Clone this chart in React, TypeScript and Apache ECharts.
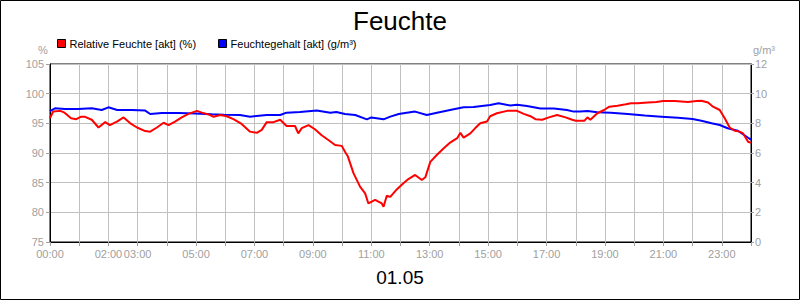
import React, { useEffect, useRef } from "react";
import * as echarts from "echarts";

// Relative humidity (%), left axis — hours of day and values
const rhHours = [0, 0.11, 0.35, 0.5, 0.72, 0.9, 1.05, 1.2, 1.43, 1.66, 1.89, 2.05, 2.29, 2.52, 2.75, 2.98, 3.26, 3.43, 3.66, 3.89, 4.06, 4.28, 4.51, 4.74, 5.03, 5.2, 5.43, 5.6, 5.83, 6.05, 6.28, 6.56, 6.85, 7.08, 7.25, 7.42, 7.65, 7.88, 8.1, 8.39, 8.5, 8.62, 8.85, 9.07, 9.3, 9.53, 9.76, 9.99, 10.1, 10.2, 10.39, 10.62, 10.79, 10.9, 11.13, 11.36, 11.42, 11.53, 11.65, 11.88, 12.1, 12.27, 12.5, 12.73, 12.85, 13.02, 13.25, 13.48, 13.7, 13.94, 14.05, 14.16, 14.39, 14.56, 14.73, 14.96, 15.07, 15.3, 15.65, 15.99, 16.22, 16.45, 16.62, 16.85, 17.08, 17.36, 17.65, 17.88, 18.0, 18.3, 18.4, 18.5, 18.74, 18.97, 19.15, 19.43, 19.72, 19.89, 20.12, 20.47, 20.76, 20.99, 21.39, 21.84, 22.13, 22.3, 22.53, 22.7, 22.93, 23.1, 23.27, 23.44, 23.61, 23.73, 23.9, 24.0];
const rhValues = [95.9, 97.0, 97.1, 96.8, 95.85, 95.7, 96.1, 96.1, 95.6, 94.3, 95.2, 94.7, 95.3, 96.0, 95.0, 94.3, 93.7, 93.6, 94.3, 95.1, 94.7, 95.3, 96.0, 96.6, 97.1, 96.8, 96.5, 96.1, 96.4, 96.2, 95.7, 94.9, 93.6, 93.4, 93.9, 95.2, 95.2, 95.6, 94.55, 94.55, 93.3, 94.2, 94.7, 94.0, 93.0, 92.2, 91.35, 91.2, 90.2, 89.4, 86.6, 84.3, 83.2, 81.5, 82.1, 81.5, 80.95, 82.8, 82.6, 83.9, 84.9, 85.6, 86.3, 85.45, 85.9, 88.5, 89.7, 90.8, 91.75, 92.5, 93.4, 92.6, 93.3, 94.2, 95.0, 95.3, 96.2, 96.7, 97.1, 97.1, 96.6, 96.2, 95.7, 95.6, 96.0, 96.4, 96.0, 95.6, 95.45, 95.45, 96.0, 95.6, 96.7, 97.25, 97.8, 97.97, 98.2, 98.37, 98.37, 98.5, 98.6, 98.76, 98.76, 98.6, 98.76, 98.8, 98.5, 97.8, 97.25, 95.85, 94.3, 93.75, 93.6, 93.3, 91.9, 91.7];

// Absolute humidity (g/m³), right axis — hours of day and values
const ahHours = [0, 0.17, 0.5, 0.97, 1.43, 1.77, 2.0, 2.3, 2.8, 3.26, 3.43, 3.83, 4.4, 4.97, 5.55, 5.95, 6.5, 6.85, 7.42, 7.88, 8.1, 8.56, 9.13, 9.6, 9.8, 10.1, 10.45, 10.85, 11.0, 11.42, 11.65, 11.94, 12.1, 12.5, 12.9, 13.25, 13.82, 14.16, 14.5, 15.07, 15.36, 15.76, 15.99, 16.33, 16.79, 17.25, 17.7, 17.93, 18.15, 18.4, 18.74, 19.2, 19.78, 20.36, 20.93, 21.5, 22.0, 22.3, 22.65, 22.93, 23.2, 23.55, 23.9, 24.0];
const ahValues = [8.83, 9.01, 8.97, 8.97, 9.01, 8.9, 9.08, 8.9, 8.9, 8.86, 8.63, 8.7, 8.7, 8.67, 8.61, 8.58, 8.56, 8.45, 8.56, 8.56, 8.72, 8.77, 8.86, 8.72, 8.77, 8.63, 8.56, 8.27, 8.4, 8.27, 8.45, 8.63, 8.68, 8.79, 8.56, 8.72, 8.95, 9.08, 9.1, 9.24, 9.35, 9.2, 9.25, 9.17, 9.0, 9.0, 8.9, 8.79, 8.79, 8.83, 8.74, 8.72, 8.63, 8.52, 8.45, 8.38, 8.29, 8.18, 8.0, 7.89, 7.67, 7.5, 7.03, 6.9];

const xLabelHours = [0, 2, 3, 5, 7, 9, 11, 13, 15, 17, 19, 21, 23];
const seriesNames = ["Relative Feuchte [akt] (%)", "Feuchtegehalt [akt] (g/m³)"];
const titleText = "Feuchte";
const dateText = "01.05";
const leftUnit = "%";
const rightUnit = "g/m³";

export default function App() {
  const ref = useRef<HTMLDivElement>(null);
  useEffect(() => {
    const chart = echarts.init(ref.current!, null, { renderer: "svg" });
    const font = "'Liberation Sans', Arial, sans-serif";
    const gray = "#a0a0a0";
    const gridGray = "#c0c0c0";
    const pad = (n: number) => (n < 10 ? "0" + n : "" + n);
    chart.setOption({
      animation: false,
      backgroundColor: "#ffffff",
      textStyle: { fontFamily: font },
      title: {
        text: titleText,
        left: "center",
        top: 3,
        textStyle: { fontSize: 26, fontWeight: "normal", color: "#000", fontFamily: font },
      },
      legend: {
        left: 57,
        top: 38,
        padding: 0,
        itemGap: 22,
        itemWidth: 8,
        itemHeight: 8,
        icon: "rect",
        itemStyle: { borderColor: "#000", borderWidth: 1 },
        textStyle: { fontSize: 11, color: "#000", fontFamily: font, padding: [0, 0, 0, -1] },
        data: seriesNames,
      },
      grid: {
        left: 50,
        right: 49,
        top: 64,
        bottom: 58,
        show: true,
        borderColor: "#000",
        borderWidth: 1,
        containLabel: false,
      },
      xAxis: {
        type: "value",
        min: 0,
        max: 24,
        interval: 1,
        axisLine: { show: true, lineStyle: { color: "#000", width: 1 } },
        axisTick: { show: true, length: 4, lineStyle: { color: gray } },
        splitLine: { show: true, lineStyle: { color: gridGray, width: 1 } },
        axisLabel: {
          color: gray,
          fontSize: 11,
          fontFamily: font,
          margin: 6,
          formatter: (v: number) => (xLabelHours.indexOf(v) >= 0 ? pad(v) + ":00" : ""),
        },
      },
      yAxis: [
        {
          type: "value",
          min: 75,
          max: 105,
          interval: 5,
          position: "left",
          axisLine: { show: true, lineStyle: { color: "#000", width: 1 } },
          axisTick: { show: true, length: 4, lineStyle: { color: gray } },
          splitLine: { show: true, lineStyle: { color: gridGray, width: 1 } },
          axisLabel: { color: gray, fontSize: 11, fontFamily: font, margin: 6 },
        },
        {
          type: "value",
          min: 0,
          max: 12,
          interval: 2,
          position: "right",
          axisLine: { show: true, lineStyle: { color: "#000", width: 1 } },
          axisTick: { show: true, length: 3, lineStyle: { color: gray } },
          splitLine: { show: false },
          axisLabel: { color: gray, fontSize: 11, fontFamily: font, margin: 4 },
        },
      ],
      series: [
        {
          name: seriesNames[0],
          type: "line",
          yAxisIndex: 0,
          z: 3,
          showSymbol: false,
          symbol: "none",
          color: "#ff0000",
          lineStyle: { color: "#ff0000", width: 2 },
          data: rhHours.map((h, i) => [h, rhValues[i]]),
        },
        {
          name: seriesNames[1],
          type: "line",
          yAxisIndex: 1,
          z: 2,
          showSymbol: false,
          symbol: "none",
          color: "#0000ff",
          lineStyle: { color: "#0000ff", width: 2 },
          data: ahHours.map((h, i) => [h, ahValues[i]]),
        },
      ],
      graphic: [
        {
          type: "rect",
          shape: { x: 0.5, y: 0.5, width: 799, height: 299 },
          style: { fill: "none", stroke: "#000", lineWidth: 1 },
          silent: true,
        },
        {
          type: "text",
          x: 43,
          y: 50,
          style: { text: leftUnit, fill: gray, font: "11px " + font, textAlign: "center", textVerticalAlign: "middle" },
        },
        {
          type: "text",
          x: 753,
          y: 50,
          style: { text: rightUnit, fill: gray, font: "11px " + font, textAlign: "left", textVerticalAlign: "middle" },
        },
        {
          type: "text",
          x: 400,
          y: 277,
          style: { text: dateText, fill: "#000", font: "19px " + font, textAlign: "center", textVerticalAlign: "middle" },
        },
      ],
    });
    return () => chart.dispose();
  }, []);
  return (
    <div
      ref={ref}
      style={{ position: "fixed", left: 0, top: 0, width: 800, height: 300, background: "#fff" }}
    />
  );
}
